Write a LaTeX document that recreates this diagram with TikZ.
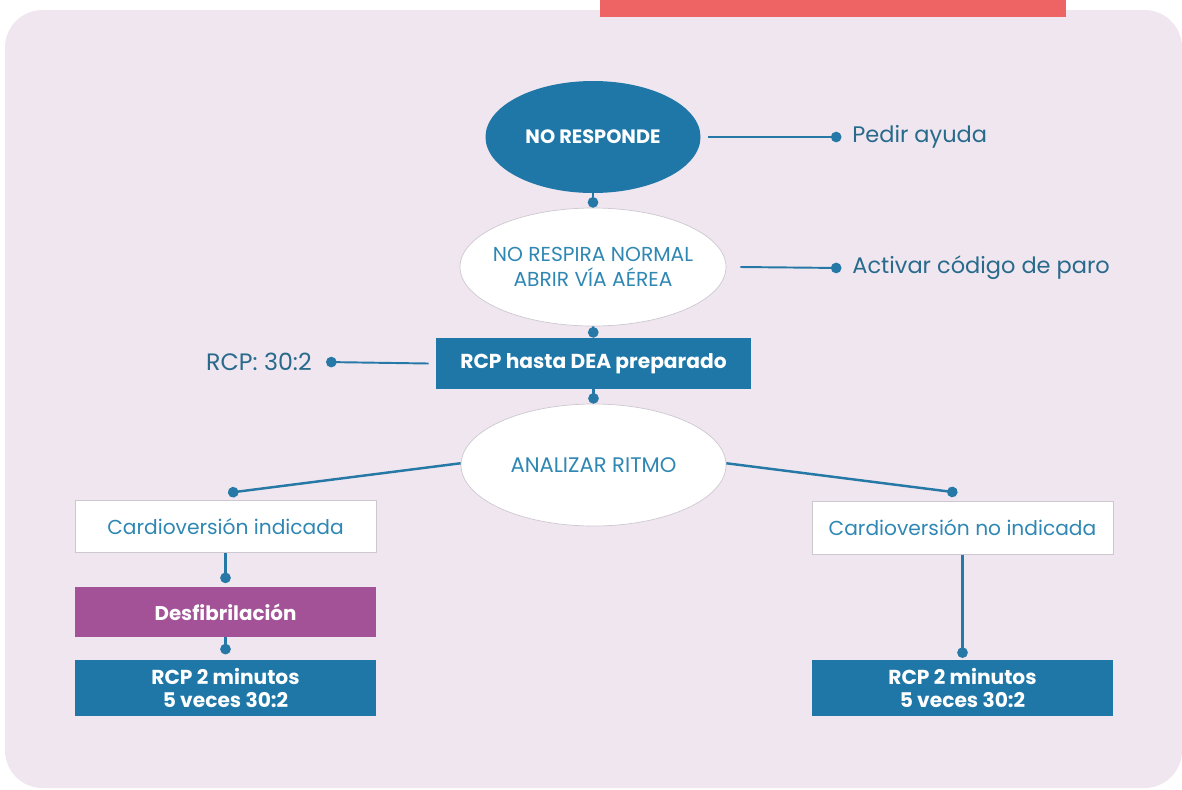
\documentclass[tikz,border=0pt]{standalone}
\usepackage{fontspec}
\setmainfont{Poppins}
\usetikzlibrary{arrows.meta,positioning,shapes.geometric}
\definecolor{rcpblue}{RGB}{31,119,168}
\definecolor{lineblue}{RGB}{38,120,166}
\definecolor{labelblue}{RGB}{40,106,140}
\definecolor{softblue}{RGB}{47,135,179}
\definecolor{desfpurple}{RGB}{164,82,152}
\definecolor{panelpink}{RGB}{240,230,239}
\definecolor{barred}{RGB}{238,100,100}
\definecolor{edgegrey}{RGB}{205,200,208}

\begin{document}
\begin{tikzpicture}[font=\fontsize{10}{12}\selectfont,
    blueoval/.style={ellipse,fill=rcpblue,text=white,font=\fontsize{11}{13}\selectfont\bfseries,inner sep=0pt},
    whiteoval/.style={ellipse,fill=white,draw=edgegrey,line width=0.4pt,text=softblue,align=center,inner sep=0pt,font=\fontsize{11.5}{14}\selectfont},
    bluebox/.style={rectangle,fill=rcpblue,text=white,minimum width=6.02cm,align=center,font=\fontsize{11.5}{13.6}\selectfont\bfseries},
    whitebox/.style={rectangle,fill=white,draw=edgegrey,line width=0.4pt,text=softblue,minimum width=6.02cm,minimum height=1.05cm,font=\fontsize{11.5}{13}\selectfont},
    sidelabel/.style={text=labelblue,font=\fontsize{12.8}{15}\selectfont,inner sep=0pt},
    conn/.style={draw=lineblue,line width=1.4pt,-{Circle[length=6pt]}}]
  \useasboundingbox (0,0) rectangle (23.64,-15.78);
  \fill[panelpink,rounded corners=0.75cm] (0.1,-0.2) rectangle (23.64,-15.76);
  \fill[barred] (12.0,0) rectangle (21.32,-0.34);

  \node[blueoval,minimum width=4.3cm,minimum height=2.24cm] (noresp) at (11.86,-2.74) {NO RESPONDE};
  \node[whiteoval,inner xsep=-0.16cm,minimum width=5.32cm,minimum height=2.36cm] (respira) at (11.86,-5.34) {NO RESPIRA NORMAL\\ABRIR VÍA AÉREA};
  \node[bluebox,minimum width=6.3cm,minimum height=1.02cm] (rcpdea) at (11.87,-7.27) {RCP hasta DEA preparado};
  \node[whiteoval,font=\fontsize{12}{14}\selectfont,minimum width=5.3cm,minimum height=2.44cm] (ritmo) at (11.87,-9.3) {ANALIZAR RITMO};

  \node[sidelabel,anchor=west] (ayuda) at (17.04,-2.74) {Pedir ayuda};
  \node[sidelabel,anchor=west] (codigo) at (17.04,-5.36) {Activar código de paro};
  \node[sidelabel,anchor=east,font=\fontsize{13.5}{15}\selectfont] (rcpratio) at (6.24,-7.24) {RCP: 30:2};

  \node[whitebox] (cardio) at (4.51,-10.53) {Cardioversión indicada};
  \node[bluebox,fill=desfpurple,minimum height=1.0cm,font=\fontsize{11.3}{13}\selectfont\bfseries] (desfib) at (4.51,-12.24) {Desfibrilación};
  \node[bluebox,minimum height=1.12cm] (rcpizq) at (4.51,-13.76) {RCP 2 minutos\\5 veces 30:2};
  \node[whitebox] (nocardio) at (19.25,-10.56) {Cardioversión no indicada};
  \node[bluebox,minimum height=1.12cm] (rcpder) at (19.25,-13.76) {RCP 2 minutos\\5 veces 30:2};

  \draw[conn,line width=1.1pt] ([xshift=4pt]noresp.east) -- ([xshift=-6pt]ayuda.west);
  \draw[conn,line width=1.1pt] ([xshift=8pt]respira.east) -- ([xshift=-6pt]codigo.west);
  \draw[conn,line width=1.1pt] ([xshift=-4pt]rcpdea.west) -- ([xshift=8pt]rcpratio.east);
  \draw[conn] (noresp.south) -- (respira.north);
  \draw[conn] (respira.south) -- (rcpdea.north);
  \draw[conn] (rcpdea.south) -- (ritmo.north);
  \draw[conn] ([yshift=1pt]ritmo.west) -- ([xshift=0.05cm,yshift=4pt]cardio.north);
  \draw[conn] ([yshift=1pt]ritmo.east) -- ([xshift=-0.1cm,yshift=5pt]nocardio.north);
  \draw[conn] (cardio.south) -- ([yshift=2pt]desfib.north);
  \draw[conn] (desfib.south) -- ([yshift=3pt]rcpizq.north);
  \draw[conn] (nocardio.south) -- ([yshift=1pt]rcpder.north);
\end{tikzpicture}
\end{document}
